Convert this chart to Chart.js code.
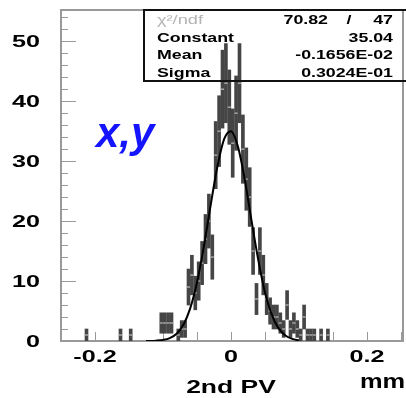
<!DOCTYPE html>
<html>
<head>
<meta charset="utf-8">
<script src="https://cdn.jsdelivr.net/npm/chart.js@4.4.1/dist/chart.umd.min.js"></script>
<style>
  body { margin: 0; background: #fff; }
  canvas { display: block; }
</style>
</head>
<body>
<canvas id="histo" width="406" height="398"></canvas>
<script>
"use strict"

// Histogram bins (centre in mm), counts and their errors
const binCenters = [-0.2125, -0.1625, -0.1475, -0.1025, -0.0975, -0.0925, -0.0875, -0.0775, -0.0725, -0.0675,
    -0.0625, -0.0575, -0.0525, -0.0475, -0.0425, -0.0375, -0.0325, -0.0275, -0.0225, -0.0175,
    -0.0125, -0.0075, -0.0025, 0.0025, 0.0075, 0.0125, 0.0175, 0.0225, 0.0275, 0.0325,
    0.0375, 0.0425, 0.0475, 0.0525, 0.0575, 0.0625, 0.0675, 0.0725, 0.0775, 0.0825,
    0.0875, 0.0925, 0.0975, 0.1025, 0.1075, 0.1125, 0.1175, 0.1225, 0.1325, 0.1425];
const counts = [1, 1, 1, 3, 3, 3, 3, 1, 2, 2,
    9, 11, 8, 10, 13, 17, 20, 14, 31, 35,
    42, 43, 39, 33, 38, 43, 32, 27, 24, 15,
    7, 15, 11, 7, 5, 4, 4, 3, 2, 6,
    2, 3, 2, 1, 4, 1, 1, 1, 1, 1];
const errors = [1, 1, 1, 1.7, 1.7, 1.7, 1.7, 1, 1.4, 1.4,
    3, 3.3, 2.8, 3.2, 3.6, 4.1, 4.5, 3.7, 5.6, 5.9,
    6.5, 6.6, 6.2, 5.7, 6.2, 6.6, 5.7, 5.2, 4.9, 3.9,
    2.6, 3.9, 3.3, 2.6, 2.2, 2, 2, 1.7, 1.4, 2.4,
    1.4, 1.7, 1.4, 1, 2, 1, 1, 1, 1, 1];

// Gaussian fit curve
const fitX = [-0.125, -0.11, -0.10, -0.09, -0.08, -0.07, -0.06, -0.05, -0.04, -0.03, -0.02, -0.01,
    0, 0.01, 0.02, 0.03, 0.04, 0.05, 0.06, 0.07, 0.08, 0.09, 0.10];
const fitY = [0.0, 0.06, 0.18, 0.49, 1.22, 2.72, 5.45, 9.75, 15.7, 22.6, 29.1, 33.7,
    35.0, 32.5, 27.1, 20.2, 13.6, 8.1, 4.4, 2.1, 0.91, 0.35, 0.12];

const xTickLabels = [-0.2, 0, 0.2];
const yTickLabels = [0, 10, 20, 30, 40, 50];

const statNames = ['Constant', 'Mean', 'Sigma'];
const statValues = ['35.04', '-0.1656E-02', '0.3024E-01'];
const chi2 = '70.82';
const ndf = '47';

const FONT = '"Liberation Sans", Arial, sans-serif';
const AXIS_GRAY = '#999';

/**
 * Skriver text som är utdragen på bredden, som ROOT:s typsnitt.
 */
function wideText(ctx, txt, x, y, font, align, sx, color) {
    ctx.save();
    ctx.font = font;
    ctx.fillStyle = color || '#000';
    ctx.textAlign = 'left';
    ctx.textBaseline = 'alphabetic';
    const w = ctx.measureText(txt).width * sx;
    let left = x;
    if (align === 'right') left = x - w;
    if (align === 'center') left = x - w / 2;
    ctx.translate(left, y);
    ctx.scale(sx, 1);
    ctx.fillText(txt, 0, 0);
    ctx.restore();
}

const rootFrame = {
    id: 'rootFrame',
    beforeDatasetsDraw(chart) {
        const ctx = chart.ctx;
        const area = chart.chartArea;
        const xs = chart.scales.x;
        const ys = chart.scales.y;

        ctx.save();
        // tick marks pointing inwards
        ctx.strokeStyle = AXIS_GRAY;
        ctx.lineWidth = 1;
        ctx.beginPath();
        for (let v = 0; v <= ys.max; v += 2) {
            const py = Math.round(ys.getPixelForValue(v)) + 0.5;
            const len = v % 10 === 0 ? 15 : 7;
            ctx.moveTo(area.left, py);
            ctx.lineTo(area.left + len, py);
        }
        for (let k = -5; k <= 5; k++) {
            const px = Math.round(xs.getPixelForValue(k * 0.05)) + 0.5;
            ctx.moveTo(px, area.bottom);
            ctx.lineTo(px, area.bottom - 9);
        }
        ctx.stroke();

        // frame
        ctx.lineWidth = 2;
        ctx.strokeRect(area.left, area.top, area.right - area.left + 2, area.bottom - area.top);
        ctx.restore();
    },
    afterDraw(chart) {
        const ctx = chart.ctx;
        const area = chart.chartArea;
        const xs = chart.scales.x;
        const ys = chart.scales.y;
        const sx = 1.48;

        yTickLabels.forEach(v => {
            wideText(ctx, String(v), 40, ys.getPixelForValue(v) + 6, 'bold 17px ' + FONT, 'right', sx);
        });
        xTickLabels.forEach(v => {
            wideText(ctx, String(v), xs.getPixelForValue(v), 362, 'bold 17px ' + FONT, 'center', sx);
        });
        wideText(ctx, '2nd PV', xs.getPixelForValue(0), 393, 'bold 18px ' + FONT, 'center', 1.47);
        wideText(ctx, 'mm', 360, 388, 'bold 20px ' + FONT, 'left', 1.27);

        // stat box
        ctx.save();
        ctx.strokeStyle = '#111';
        ctx.lineWidth = 2;
        ctx.strokeRect(144, area.top, 270, 71);
        ctx.restore();

        const rowY = [24, 41.5, 59, 76.5];
        wideText(ctx, 'χ²/ndf', 157, rowY[0], '13px ' + FONT, 'left', 1.4, '#b4b4b4');
        wideText(ctx, chi2, 328, rowY[0], 'bold 12px ' + FONT, 'right', sx);
        wideText(ctx, '/', 349, rowY[0], 'bold 12px ' + FONT, 'center', sx);
        wideText(ctx, ndf, 393, rowY[0], 'bold 12px ' + FONT, 'right', sx);
        statNames.forEach((name, i) => {
            wideText(ctx, name, 157, rowY[i + 1], 'bold 12px ' + FONT, 'left', sx);
            wideText(ctx, statValues[i], 393, rowY[i + 1], 'bold 12px ' + FONT, 'right', sx);
        });

        // projection label
        ctx.save();
        ctx.font = 'italic bold 42px ' + FONT;
        ctx.fillStyle = '#1414ff';
        ctx.textBaseline = 'alphabetic';
        ctx.fillText('x,y', 96, 147);
        ctx.restore();
    }
};

const ctx = document.getElementById('histo').getContext('2d');

new Chart(ctx, {
    type: 'bar',
    data: {
        datasets: [
            {
                type: 'line',
                data: fitX.map((x, i) => ({ x: x, y: fitY[i] })),
                borderColor: '#000',
                borderWidth: 2,
                pointRadius: 0,
                cubicInterpolationMode: 'monotone',
                fill: false
            },
            {
                type: 'line',
                data: binCenters.map((x, i) => ({ x: x, y: counts[i] })),
                showLine: false,
                pointStyle: 'line',
                pointRadius: 1.5,
                borderColor: '#d8d8d8',
                borderWidth: 1
            },
            {
                type: 'bar',
                data: binCenters.map((x, i) => ({ x: x, y: [counts[i] - errors[i], counts[i] + errors[i]] })),
                backgroundColor: '#454545',
                barThickness: 3,
                grouped: false
            }
        ]
    },
    options: {
        responsive: false,
        devicePixelRatio: 1,
        animation: false,
        layout: { padding: { top: 10, right: 1, left: 0, bottom: 0 } },
        plugins: { legend: { display: false }, tooltip: { enabled: false } },
        scales: {
            x: {
                type: 'linear',
                min: -0.25,
                max: 0.25,
                offset: false,
                grid: { display: false },
                border: { display: false },
                ticks: { display: false },
                afterFit: s => { s.height = 57; }
            },
            y: {
                min: 0,
                max: 55.2,
                grid: { display: false },
                border: { display: false },
                ticks: { display: false },
                afterFit: s => { s.width = 61; }
            }
        }
    },
    plugins: [rootFrame]
});
</script>
</body>
</html>
